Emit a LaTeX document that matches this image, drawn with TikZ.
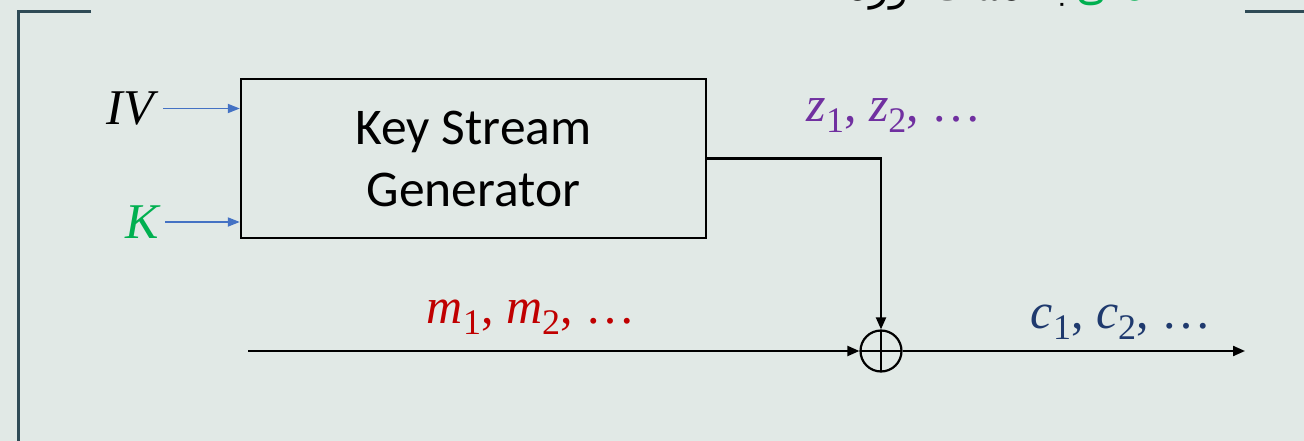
\documentclass[tikz,border=0pt]{standalone}
\usepackage{fontspec}
\setmainfont{Carlito}
\newfontfamily\mathserif{Liberation Serif}
\newfontfamily\arabicfont[Script=Arabic]{DejaVu Sans}
\TeXXeTstate=1
\usetikzlibrary{arrows.meta}
\newcommand{\vsub}[2]{\textit{#1}\raisebox{-0.22em}{\fontsize{36}{38}\selectfont #2}}
\definecolor{bg}{HTML}{E1E9E6}
\definecolor{framecol}{HTML}{2F4B56}
\definecolor{inblue}{HTML}{4472C4}
\definecolor{kgreen}{HTML}{00B050}
\definecolor{zpurple}{HTML}{7030A0}
\definecolor{mred}{HTML}{C00000}
\definecolor{cnavy}{HTML}{1F3A6E}
\tikzset{
  frameline/.style={draw=framecol, line width=3pt},
  kbox/.style={draw=black, line width=2.4pt, minimum width=465pt, minimum height=159pt, align=center, inner sep=0pt,
    font=\fontsize{51.5}{62}\selectfont},
  mathlbl/.style={inner sep=4pt, font=\mathserif\fontsize{50}{54}\selectfont},
  titlefont/.style={inner sep=0pt, font=\arabicfont\fontsize{40}{44}\selectfont},
  inarrow/.style={draw=inblue, line width=1.9pt, -{Triangle[length=12pt,width=9pt]}},
  flow/.style={draw=black, line width=2.1pt, -{Triangle[length=12pt,width=10pt]}},
  xorsym/.style={circle, draw=black, line width=2.2pt, minimum size=41pt, inner sep=0pt,
    path picture={\draw[line width=2.2pt] (path picture bounding box.north) -- (path picture bounding box.south)
      (path picture bounding box.west) -- (path picture bounding box.east);}}
}
\begin{document}
\begin{tikzpicture}[x=1pt,y=-1pt]
\useasboundingbox (0,0) rectangle (1304,441);
\clip (0,0) rectangle (1304,441);
\fill[bg] (0,0) rectangle (1304,441);
% frame
\draw[frameline] (91,12) -- (18,12) -- (18,450);
\draw[frameline] (1245,12) -- (1310,12);
% clipped title
\node[titlefont, anchor=base east, text=kgreen] (tgreen) at (1205,1) {\beginR تصادفی\endR};
\node[titlefont, anchor=base east, xshift=-8pt] (tblack) at (tgreen.base west) {\beginR به دست آورد.\endR};
% generator
\node[kbox] (ksg) at (473.5,158.5) {Key Stream\\Generator};
% inputs
\node[mathlbl, anchor=east] (iv) at (163,108.5) {\textit{IV}};
\node[mathlbl, anchor=east, text=kgreen] (k) at (165,222) {\textit{K}};
\draw[inarrow] (iv.east) -- (iv.east -| ksg.west);
\draw[inarrow] (k.east) -- (k.east -| ksg.west);
% xor
\node[xorsym] (xor) at (881,351) {};
\draw[flow] (ksg.east) -| (xor.north);
\coordinate (min) at (248,351);
\coordinate (cout) at (1245,351);
\draw[flow] (min) -- (xor.west);
\draw[flow] (xor.east) -- (cout);
% labels
\node[mathlbl, anchor=base, text=zpurple] (zlbl) at (894,122) {\vsub{z}{1}, \vsub{z}{2}, …};
\node[mathlbl, anchor=base, text=mred] (mlbl) at (531,323) {\vsub{m}{1}, \vsub{m}{2}, …};
\node[mathlbl, anchor=base, text=cnavy] (clbl) at (1121,328) {\vsub{c}{1}, \vsub{c}{2}, …};
\end{tikzpicture}
\end{document}
